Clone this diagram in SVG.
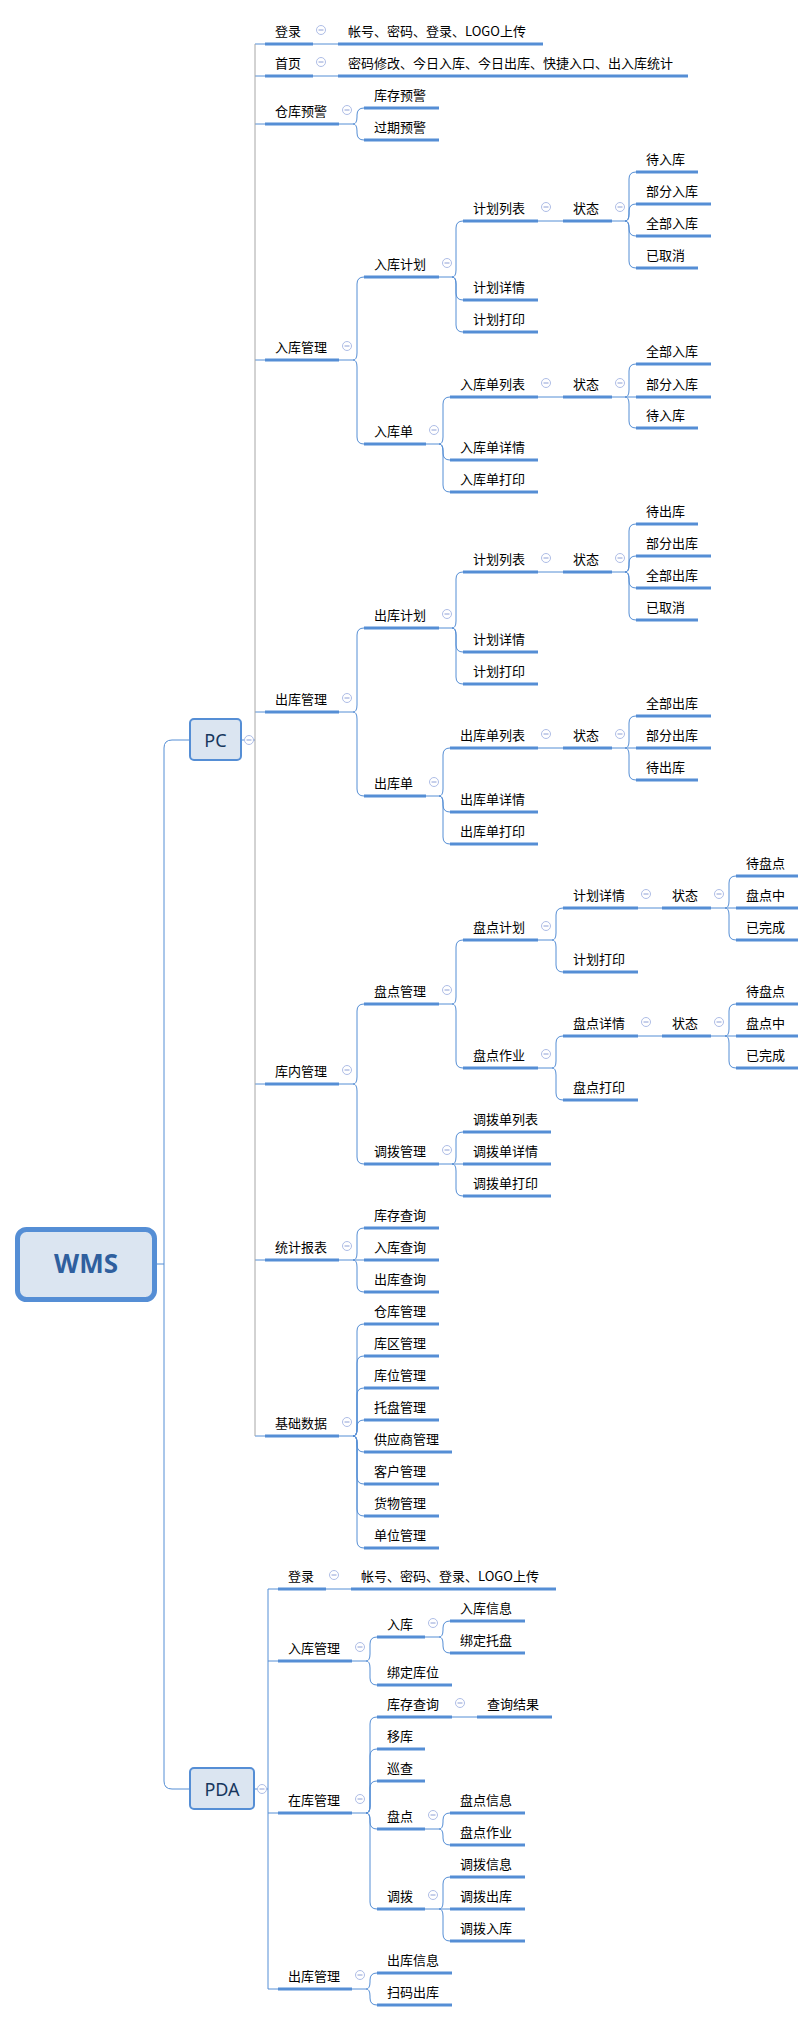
<svg xmlns="http://www.w3.org/2000/svg" xmlns:xlink="http://www.w3.org/1999/xlink" width="812" height="2022" viewBox="0 0 812 2022">
<style>
.t{font-family:"Noto Sans CJK SC","Noto Sans",sans-serif;font-size:13px;fill:#000}
.u{stroke:#558ED5;stroke-width:3;fill:none}
.ln{stroke:#558ED5;stroke-width:1;fill:none}
.tr{stroke:#a6a6a6;stroke-width:1;fill:none}
.box{fill:#dbe5f1;stroke:#558ED5}
</style>
<defs>
<g id="col"><circle r="4.5" fill="#fff" stroke="#aebde6" stroke-width="1"/><path d="M-2.5 0H2.5" stroke="#8ea0d6" stroke-width="1"/></g>
</defs>
<rect width="812" height="2022" fill="#fff"/>
<g id="connectors">
<path class="ln" stroke-width="1.5" d="M155 1264H164M190 740H172Q164 740 164 748V1781Q164 1789 172 1789H190"/>
<path class="ln" d="M241 740H255M255 44H265M255 76H265M255 124H265M255 360H265M255 712H265M255 1084H265M255 1260H265M255 1436H265"/>
<path class="tr" d="M255 44V1436"/>
<path class="ln" d="M254 1789H268M278 1589H268V1989H278M268 1661H278M268 1813H278"/>
<path class="ln" d="M313 44H338M313 76H338
M339 124H353M353 124Q357 124 357 117V115Q357 108 364 108M353 124Q357 124 357 131V133Q357 140 364 140
M339 360H353M353 360Q357 360 357 353V284Q357 277 364 277M353 360Q357 360 357 367V437Q357 444 364 444
M439 277H452M452 277Q456 277 456 270V228Q456 221 463 221M452 277Q456 277 456 284V293Q456 300 463 300M452 277Q456 277 456 284V325Q456 332 463 332
M538 221H563
M612 221H625M625 221Q629 221 629 214V179Q629 172 636 172M625 221Q629 221 629 214V211Q629 204 636 204M625 221Q629 221 629 228V229Q629 236 636 236M625 221Q629 221 629 228V261Q629 268 636 268
M426 444H439M439 444Q443 444 443 437V404Q443 397 450 397M439 444Q443 444 443 451V453Q443 460 450 460M439 444Q443 444 443 451V485Q443 492 450 492
M538 397H563
M612 397H636M625 397Q629 397 629 390V371Q629 364 636 364M625 397Q629 397 629 404V421Q629 428 636 428
M339 712H353M353 712Q357 712 357 705V635Q357 628 364 628M353 712Q357 712 357 719V789Q357 796 364 796
M439 628H452M452 628Q456 628 456 621V579Q456 572 463 572M452 628Q456 628 456 635V645Q456 652 463 652M452 628Q456 628 456 635V677Q456 684 463 684
M538 572H563
M612 572H625M625 572Q629 572 629 565V531Q629 524 636 524M625 572Q629 572 629 565V563Q629 556 636 556M625 572Q629 572 629 579V581Q629 588 636 588M625 572Q629 572 629 579V613Q629 620 636 620
M426 796H439M439 796Q443 796 443 789V755Q443 748 450 748M439 796Q443 796 443 803V805Q443 812 450 812M439 796Q443 796 443 803V837Q443 844 450 844
M538 748H563
M612 748H636M625 748Q629 748 629 741V723Q629 716 636 716M625 748Q629 748 629 755V773Q629 780 636 780
M339 1084H353M353 1084Q357 1084 357 1077V1011Q357 1004 364 1004M353 1084Q357 1084 357 1091V1157Q357 1164 364 1164
M439 1004H452M452 1004Q456 1004 456 997V947Q456 940 463 940M452 1004Q456 1004 456 1011V1061Q456 1068 463 1068
M538 940H552M552 940Q556 940 556 933V915Q556 908 563 908M552 940Q556 940 556 947V965Q556 972 563 972
M638 908H662
M711 908H736M725 908Q729 908 729 901V883Q729 876 736 876M725 908Q729 908 729 915V933Q729 940 736 940
M538 1068H552M552 1068Q556 1068 556 1061V1043Q556 1036 563 1036M552 1068Q556 1068 556 1075V1093Q556 1100 563 1100
M638 1036H662
M711 1036H736M725 1036Q729 1036 729 1029V1011Q729 1004 736 1004M725 1036Q729 1036 729 1043V1061Q729 1068 736 1068
M439 1164H463M452 1164Q456 1164 456 1157V1139Q456 1132 463 1132M452 1164Q456 1164 456 1171V1189Q456 1196 463 1196
M339 1260H364M353 1260Q357 1260 357 1253V1235Q357 1228 364 1228M353 1260Q357 1260 357 1267V1285Q357 1292 364 1292
M339 1436H353M353 1436Q357 1436 357 1429V1331Q357 1324 364 1324M353 1436Q357 1436 357 1429V1363Q357 1356 364 1356M353 1436Q357 1436 357 1429V1395Q357 1388 364 1388M353 1436Q357 1436 357 1429V1427Q357 1420 364 1420M353 1436Q357 1436 357 1443V1445Q357 1452 364 1452M353 1436Q357 1436 357 1443V1477Q357 1484 364 1484M353 1436Q357 1436 357 1443V1509Q357 1516 364 1516M353 1436Q357 1436 357 1443V1541Q357 1548 364 1548
M326 1589H351
M352 1661H366M366 1661Q370 1661 370 1654V1644Q370 1637 377 1637M366 1661Q370 1661 370 1668V1678Q370 1685 377 1685
M425 1637H439M439 1637Q443 1637 443 1630V1628Q443 1621 450 1621M439 1637Q443 1637 443 1644V1646Q443 1653 450 1653
M352 1813H366M366 1813Q370 1813 370 1806V1724Q370 1717 377 1717M366 1813Q370 1813 370 1806V1756Q370 1749 377 1749M366 1813Q370 1813 370 1806V1788Q370 1781 377 1781M366 1813Q370 1813 370 1820V1822Q370 1829 377 1829M366 1813Q370 1813 370 1820V1902Q370 1909 377 1909
M452 1717H477
M425 1829H439M439 1829Q443 1829 443 1822V1820Q443 1813 450 1813M439 1829Q443 1829 443 1836V1838Q443 1845 450 1845
M425 1909H450M439 1909Q443 1909 443 1902V1884Q443 1877 450 1877M439 1909Q443 1909 443 1916V1934Q443 1941 450 1941
M352 1989H366M366 1989Q370 1989 370 1982V1980Q370 1973 377 1973M366 1989Q370 1989 370 1996V1998Q370 2005 377 2005"/>
</g>
<g id="n-wms"><rect class="box" x="17.5" y="1229.5" width="137" height="70" rx="9" stroke-width="5"/><text x="86" y="1273" text-anchor="middle" style="font-family:'Noto Sans','Liberation Sans',sans-serif;font-size:26px;font-weight:bold;fill:#2f5f9e">WMS</text></g>
<g id="n-pc"><rect class="box" x="190" y="719" width="51" height="41" rx="4" stroke-width="2"/><text x="215.5" y="746.5" text-anchor="middle" style="font-family:'Noto Sans','Liberation Sans',sans-serif;font-size:18px;fill:#17375e">PC</text><use href="#col" x="249" y="740"/></g>
<g id="n-pda"><rect class="box" x="190" y="1768" width="64" height="41" rx="4" stroke-width="2"/><text x="222" y="1795.5" text-anchor="middle" style="font-family:'Noto Sans','Liberation Sans',sans-serif;font-size:18px;fill:#17375e">PDA</text><use href="#col" x="262" y="1789"/></g>

<g id="pc-login"><path class="u" d="M265 44h48"/><text class="t" x="275" y="36">登录</text><use href="#col" x="321" y="30"/></g>
<g id="pc-login-1"><path class="u" d="M338 44h205"/><text class="t" x="348" y="36">帐号、密码、登录、LOGO上传</text></g>
<g id="pc-home"><path class="u" d="M265 76h48"/><text class="t" x="275" y="68">首页</text><use href="#col" x="321" y="62"/></g>
<g id="pc-home-1"><path class="u" d="M338 76h350"/><text class="t" x="348" y="68">密码修改、今日入库、今日出库、快捷入口、出入库统计</text></g>
<g id="pc-warn"><path class="u" d="M265 124h74"/><text class="t" x="275" y="116">仓库预警</text><use href="#col" x="347" y="110"/></g>
<g id="pc-warn-1"><path class="u" d="M364 108h75"/><text class="t" x="374" y="100">库存预警</text></g>
<g id="pc-warn-2"><path class="u" d="M364 140h75"/><text class="t" x="374" y="132">过期预警</text></g>

<g id="pc-in"><path class="u" d="M265 360h74"/><text class="t" x="275" y="352">入库管理</text><use href="#col" x="347" y="346"/></g>
<g id="pc-in-plan"><path class="u" d="M364 277h75"/><text class="t" x="374" y="269">入库计划</text><use href="#col" x="447" y="263"/></g>
<g id="pc-in-plan-list"><path class="u" d="M463 221h75"/><text class="t" x="473" y="213">计划列表</text><use href="#col" x="546" y="207"/></g>
<g id="pc-in-plan-st"><path class="u" d="M563 221h49"/><text class="t" x="573" y="213">状态</text><use href="#col" x="620" y="207"/></g>
<g id="pc-in-plan-s1"><path class="u" d="M636 172h62"/><text class="t" x="646" y="164">待入库</text></g>
<g id="pc-in-plan-s2"><path class="u" d="M636 204h75"/><text class="t" x="646" y="196">部分入库</text></g>
<g id="pc-in-plan-s3"><path class="u" d="M636 236h75"/><text class="t" x="646" y="228">全部入库</text></g>
<g id="pc-in-plan-s4"><path class="u" d="M636 268h62"/><text class="t" x="646" y="260">已取消</text></g>
<g id="pc-in-plan-detail"><path class="u" d="M463 300h75"/><text class="t" x="473" y="292">计划详情</text></g>
<g id="pc-in-plan-print"><path class="u" d="M463 332h75"/><text class="t" x="473" y="324">计划打印</text></g>
<g id="pc-in-order"><path class="u" d="M364 444h62"/><text class="t" x="374" y="436">入库单</text><use href="#col" x="434" y="430"/></g>
<g id="pc-in-order-list"><path class="u" d="M450 397h88"/><text class="t" x="460" y="389">入库单列表</text><use href="#col" x="546" y="383"/></g>
<g id="pc-in-order-st"><path class="u" d="M563 397h49"/><text class="t" x="573" y="389">状态</text><use href="#col" x="620" y="383"/></g>
<g id="pc-in-order-s1"><path class="u" d="M636 364h75"/><text class="t" x="646" y="356">全部入库</text></g>
<g id="pc-in-order-s2"><path class="u" d="M636 397h75"/><text class="t" x="646" y="389">部分入库</text></g>
<g id="pc-in-order-s3"><path class="u" d="M636 428h62"/><text class="t" x="646" y="420">待入库</text></g>
<g id="pc-in-order-detail"><path class="u" d="M450 460h88"/><text class="t" x="460" y="452">入库单详情</text></g>
<g id="pc-in-order-print"><path class="u" d="M450 492h88"/><text class="t" x="460" y="484">入库单打印</text></g>

<g id="pc-out"><path class="u" d="M265 712h74"/><text class="t" x="275" y="704">出库管理</text><use href="#col" x="347" y="698"/></g>
<g id="pc-out-plan"><path class="u" d="M364 628h75"/><text class="t" x="374" y="620">出库计划</text><use href="#col" x="447" y="614"/></g>
<g id="pc-out-plan-list"><path class="u" d="M463 572h75"/><text class="t" x="473" y="564">计划列表</text><use href="#col" x="546" y="558"/></g>
<g id="pc-out-plan-st"><path class="u" d="M563 572h49"/><text class="t" x="573" y="564">状态</text><use href="#col" x="620" y="558"/></g>
<g id="pc-out-plan-s1"><path class="u" d="M636 524h62"/><text class="t" x="646" y="516">待出库</text></g>
<g id="pc-out-plan-s2"><path class="u" d="M636 556h75"/><text class="t" x="646" y="548">部分出库</text></g>
<g id="pc-out-plan-s3"><path class="u" d="M636 588h75"/><text class="t" x="646" y="580">全部出库</text></g>
<g id="pc-out-plan-s4"><path class="u" d="M636 620h62"/><text class="t" x="646" y="612">已取消</text></g>
<g id="pc-out-plan-detail"><path class="u" d="M463 652h75"/><text class="t" x="473" y="644">计划详情</text></g>
<g id="pc-out-plan-print"><path class="u" d="M463 684h75"/><text class="t" x="473" y="676">计划打印</text></g>
<g id="pc-out-order"><path class="u" d="M364 796h62"/><text class="t" x="374" y="788">出库单</text><use href="#col" x="434" y="782"/></g>
<g id="pc-out-order-list"><path class="u" d="M450 748h88"/><text class="t" x="460" y="740">出库单列表</text><use href="#col" x="546" y="734"/></g>
<g id="pc-out-order-st"><path class="u" d="M563 748h49"/><text class="t" x="573" y="740">状态</text><use href="#col" x="620" y="734"/></g>
<g id="pc-out-order-s1"><path class="u" d="M636 716h75"/><text class="t" x="646" y="708">全部出库</text></g>
<g id="pc-out-order-s2"><path class="u" d="M636 748h75"/><text class="t" x="646" y="740">部分出库</text></g>
<g id="pc-out-order-s3"><path class="u" d="M636 780h62"/><text class="t" x="646" y="772">待出库</text></g>
<g id="pc-out-order-detail"><path class="u" d="M450 812h88"/><text class="t" x="460" y="804">出库单详情</text></g>
<g id="pc-out-order-print"><path class="u" d="M450 844h88"/><text class="t" x="460" y="836">出库单打印</text></g>

<g id="pc-inv"><path class="u" d="M265 1084h74"/><text class="t" x="275" y="1076">库内管理</text><use href="#col" x="347" y="1070"/></g>
<g id="pc-inv-check"><path class="u" d="M364 1004h75"/><text class="t" x="374" y="996">盘点管理</text><use href="#col" x="447" y="990"/></g>
<g id="pc-inv-check-plan"><path class="u" d="M463 940h75"/><text class="t" x="473" y="932">盘点计划</text><use href="#col" x="546" y="926"/></g>
<g id="pc-inv-check-plan-detail"><path class="u" d="M563 908h75"/><text class="t" x="573" y="900">计划详情</text><use href="#col" x="646" y="894"/></g>
<g id="pc-inv-check-plan-st"><path class="u" d="M662 908h49"/><text class="t" x="672" y="900">状态</text><use href="#col" x="719" y="894"/></g>
<g id="pc-inv-check-plan-s1"><path class="u" d="M736 876h62"/><text class="t" x="746" y="868">待盘点</text></g>
<g id="pc-inv-check-plan-s2"><path class="u" d="M736 908h62"/><text class="t" x="746" y="900">盘点中</text></g>
<g id="pc-inv-check-plan-s3"><path class="u" d="M736 940h62"/><text class="t" x="746" y="932">已完成</text></g>
<g id="pc-inv-check-plan-print"><path class="u" d="M563 972h75"/><text class="t" x="573" y="964">计划打印</text></g>
<g id="pc-inv-check-job"><path class="u" d="M463 1068h75"/><text class="t" x="473" y="1060">盘点作业</text><use href="#col" x="546" y="1054"/></g>
<g id="pc-inv-check-job-detail"><path class="u" d="M563 1036h75"/><text class="t" x="573" y="1028">盘点详情</text><use href="#col" x="646" y="1022"/></g>
<g id="pc-inv-check-job-st"><path class="u" d="M662 1036h49"/><text class="t" x="672" y="1028">状态</text><use href="#col" x="719" y="1022"/></g>
<g id="pc-inv-check-job-s1"><path class="u" d="M736 1004h62"/><text class="t" x="746" y="996">待盘点</text></g>
<g id="pc-inv-check-job-s2"><path class="u" d="M736 1036h62"/><text class="t" x="746" y="1028">盘点中</text></g>
<g id="pc-inv-check-job-s3"><path class="u" d="M736 1068h62"/><text class="t" x="746" y="1060">已完成</text></g>
<g id="pc-inv-check-job-print"><path class="u" d="M563 1100h75"/><text class="t" x="573" y="1092">盘点打印</text></g>
<g id="pc-inv-move"><path class="u" d="M364 1164h75"/><text class="t" x="374" y="1156">调拨管理</text><use href="#col" x="447" y="1150"/></g>
<g id="pc-inv-move-1"><path class="u" d="M463 1132h88"/><text class="t" x="473" y="1124">调拨单列表</text></g>
<g id="pc-inv-move-2"><path class="u" d="M463 1164h88"/><text class="t" x="473" y="1156">调拨单详情</text></g>
<g id="pc-inv-move-3"><path class="u" d="M463 1196h88"/><text class="t" x="473" y="1188">调拨单打印</text></g>

<g id="pc-stat"><path class="u" d="M265 1260h74"/><text class="t" x="275" y="1252">统计报表</text><use href="#col" x="347" y="1246"/></g>
<g id="pc-stat-1"><path class="u" d="M364 1228h75"/><text class="t" x="374" y="1220">库存查询</text></g>
<g id="pc-stat-2"><path class="u" d="M364 1260h75"/><text class="t" x="374" y="1252">入库查询</text></g>
<g id="pc-stat-3"><path class="u" d="M364 1292h75"/><text class="t" x="374" y="1284">出库查询</text></g>

<g id="pc-base"><path class="u" d="M265 1436h74"/><text class="t" x="275" y="1428">基础数据</text><use href="#col" x="347" y="1422"/></g>
<g id="pc-base-1"><path class="u" d="M364 1324h75"/><text class="t" x="374" y="1316">仓库管理</text></g>
<g id="pc-base-2"><path class="u" d="M364 1356h75"/><text class="t" x="374" y="1348">库区管理</text></g>
<g id="pc-base-3"><path class="u" d="M364 1388h75"/><text class="t" x="374" y="1380">库位管理</text></g>
<g id="pc-base-4"><path class="u" d="M364 1420h75"/><text class="t" x="374" y="1412">托盘管理</text></g>
<g id="pc-base-5"><path class="u" d="M364 1452h88"/><text class="t" x="374" y="1444">供应商管理</text></g>
<g id="pc-base-6"><path class="u" d="M364 1484h75"/><text class="t" x="374" y="1476">客户管理</text></g>
<g id="pc-base-7"><path class="u" d="M364 1516h75"/><text class="t" x="374" y="1508">货物管理</text></g>
<g id="pc-base-8"><path class="u" d="M364 1548h75"/><text class="t" x="374" y="1540">单位管理</text></g>

<g id="pda-login"><path class="u" d="M278 1589h48"/><text class="t" x="288" y="1581">登录</text><use href="#col" x="334" y="1575"/></g>
<g id="pda-login-1"><path class="u" d="M351 1589h205"/><text class="t" x="361" y="1581">帐号、密码、登录、LOGO上传</text></g>
<g id="pda-in"><path class="u" d="M278 1661h74"/><text class="t" x="288" y="1653">入库管理</text><use href="#col" x="360" y="1647"/></g>
<g id="pda-in-1"><path class="u" d="M377 1637h48"/><text class="t" x="387" y="1629">入库</text><use href="#col" x="433" y="1623"/></g>
<g id="pda-in-1-1"><path class="u" d="M450 1621h75"/><text class="t" x="460" y="1613">入库信息</text></g>
<g id="pda-in-1-2"><path class="u" d="M450 1653h75"/><text class="t" x="460" y="1645">绑定托盘</text></g>
<g id="pda-in-2"><path class="u" d="M377 1685h75"/><text class="t" x="387" y="1677">绑定库位</text></g>
<g id="pda-stock"><path class="u" d="M278 1813h74"/><text class="t" x="288" y="1805">在库管理</text><use href="#col" x="360" y="1799"/></g>
<g id="pda-stock-1"><path class="u" d="M377 1717h75"/><text class="t" x="387" y="1709">库存查询</text><use href="#col" x="460" y="1703"/></g>
<g id="pda-stock-1-1"><path class="u" d="M477 1717h75"/><text class="t" x="487" y="1709">查询结果</text></g>
<g id="pda-stock-2"><path class="u" d="M377 1749h48"/><text class="t" x="387" y="1741">移库</text></g>
<g id="pda-stock-3"><path class="u" d="M377 1781h48"/><text class="t" x="387" y="1773">巡查</text></g>
<g id="pda-stock-4"><path class="u" d="M377 1829h48"/><text class="t" x="387" y="1821">盘点</text><use href="#col" x="433" y="1815"/></g>
<g id="pda-stock-4-1"><path class="u" d="M450 1813h75"/><text class="t" x="460" y="1805">盘点信息</text></g>
<g id="pda-stock-4-2"><path class="u" d="M450 1845h75"/><text class="t" x="460" y="1837">盘点作业</text></g>
<g id="pda-stock-5"><path class="u" d="M377 1909h48"/><text class="t" x="387" y="1901">调拨</text><use href="#col" x="433" y="1895"/></g>
<g id="pda-stock-5-1"><path class="u" d="M450 1877h75"/><text class="t" x="460" y="1869">调拨信息</text></g>
<g id="pda-stock-5-2"><path class="u" d="M450 1909h75"/><text class="t" x="460" y="1901">调拨出库</text></g>
<g id="pda-stock-5-3"><path class="u" d="M450 1941h75"/><text class="t" x="460" y="1933">调拨入库</text></g>
<g id="pda-out"><path class="u" d="M278 1989h74"/><text class="t" x="288" y="1981">出库管理</text><use href="#col" x="360" y="1975"/></g>
<g id="pda-out-1"><path class="u" d="M377 1973h75"/><text class="t" x="387" y="1965">出库信息</text></g>
<g id="pda-out-2"><path class="u" d="M377 2005h75"/><text class="t" x="387" y="1997">扫码出库</text></g>
</svg>
